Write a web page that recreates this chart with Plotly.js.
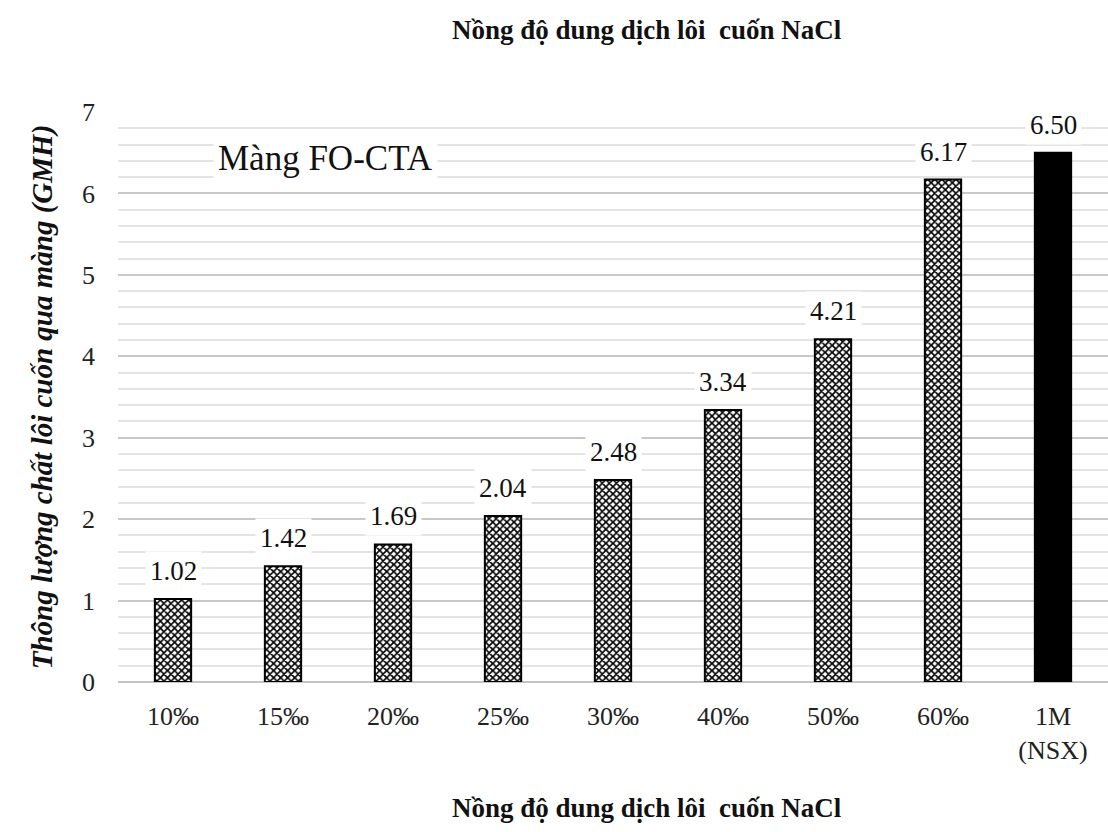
<!DOCTYPE html>
<html>
<head>
<meta charset="utf-8">
<script src="https://cdn.plot.ly/plotly-3.0.1.min.js"></script>
<style>
  html, body { margin: 0; padding: 0; background: #fff; }
  #chart { width: 1108px; height: 832px; }
</style>
</head>
<body>
<div id="chart"></div>
<script>
// Draw solution concentrations (category labels)
const concentrations = ['10‰', '15‰', '20‰', '25‰', '30‰', '40‰', '50‰', '60‰', '1M<br>(NSX)'];
// Draw-solute flux through the membrane (GMH)
const flux = [1.02, 1.42, 1.69, 2.04, 2.48, 3.34, 4.21, 6.17, 6.50];
// Fill style per bar: hatched for the lab series, solid for the manufacturer reference
const fillShape = ['x', 'x', 'x', 'x', 'x', 'x', 'x', 'x', ''];

const serif = 'Liberation Serif, Times New Roman, serif';
const axisTitle = 'Nồng độ dung dịch lôi\u00a0 cuốn NaCl';

const trace = {
  type: 'bar',
  x: concentrations,
  y: flux,
  marker: {
    color: 'black',
    line: { color: 'black', width: 2 },
    pattern: { shape: fillShape, fgcolor: 'black', bgcolor: 'white', size: 5, solidity: 0.55 }
  },
  hoverinfo: 'x+y'
};

// Value labels on a white box above each bar
const valueLabels = flux.map((v, i) => ({
  x: concentrations[i],
  y: v,
  xref: 'x',
  yref: 'y',
  text: v.toFixed(2),
  showarrow: false,
  yanchor: 'bottom',
  yshift: 8,
  bgcolor: 'white',
  borderpad: 4,
  font: { family: serif, size: 27, color: '#111' }
}));

const layout = {
  width: 1108,
  height: 832,
  margin: { l: 118, r: 0, t: 112, b: 150 },
  paper_bgcolor: 'white',
  plot_bgcolor: 'white',
  bargap: 0.67,
  showlegend: false,
  font: { family: serif, color: '#111' },
  title: {
    text: '<b>' + axisTitle + '</b>',
    font: { family: serif, size: 27, color: '#111' },
    x: 0.534, xref: 'paper', xanchor: 'center',
    y: 1 - 30 / 832, yref: 'container', yanchor: 'middle'
  },
  xaxis: {
    type: 'category',
    showgrid: false,
    showline: false,
    ticks: '',
    tickfont: { family: serif, size: 26, color: '#222' },
    ticklabelstandoff: 16,
    zeroline: false
  },
  yaxis: {
    range: [0, 7],
    dtick: 1,
    tick0: 0,
    ticks: '',
    showline: false,
    zeroline: true,
    zerolinecolor: '#c4c4c4',
    zerolinewidth: 2,
    gridcolor: '#c8c8c8',
    gridwidth: 2,
    minor: { dtick: 0.2, showgrid: true, gridcolor: '#e4e4e4', gridwidth: 2 },
    tickfont: { family: serif, size: 26, color: '#222' },
    ticklabelstandoff: 22,
    title: {
      text: '<b><i>Thông lượng chất lôi cuốn qua màng (GMH)</i></b>',
      font: { family: serif, size: 29, color: '#111' },
      standoff: 20
    },
    automargin: false
  },
  annotations: valueLabels.concat([
    {
      text: 'Màng FO-CTA',
      xref: 'paper', yref: 'paper',
      x: 0.096, y: 0.919,
      xanchor: 'left', yanchor: 'middle',
      showarrow: false,
      bgcolor: 'white',
      borderpad: 4,
      font: { family: serif, size: 35, color: '#111' }
    },
    {
      text: '<b>' + axisTitle + '</b>',
      xref: 'paper', yref: 'paper',
      x: 0.534, y: -(808 - 682) / 570,
      xanchor: 'center', yanchor: 'middle',
      showarrow: false,
      font: { family: serif, size: 27, color: '#111' }
    }
  ])
};

Plotly.newPlot('chart', [trace], layout, { displayModeBar: false, staticPlot: true });
</script>
</body>
</html>
